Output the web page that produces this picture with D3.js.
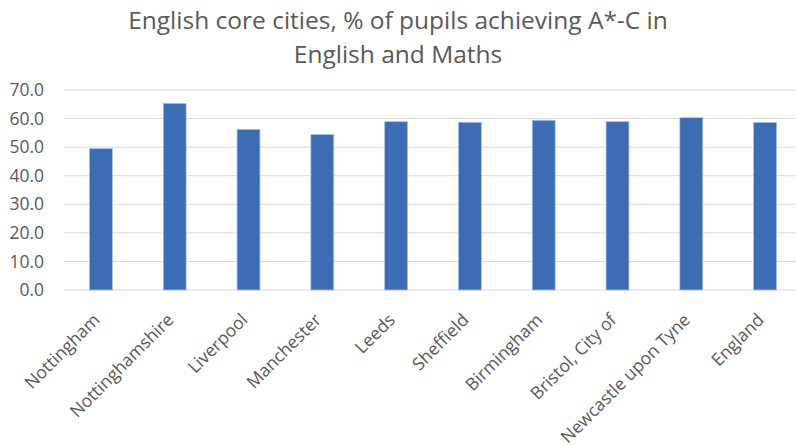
<!DOCTYPE html>
<html>
<head>
<meta charset="utf-8">
<script src="https://cdn.jsdelivr.net/npm/d3@7"></script>
<style>
  html, body { margin: 0; padding: 0; background: #fff; }
  svg { display: block; font-family: "Open Sans", "Noto Sans", sans-serif; }
</style>
</head>
<body>
<svg id="chart" width="796" height="445"></svg>
<script>
// Share of pupils achieving A*-C in English and Maths, by area
const categories = ["Nottingham", "Nottinghamshire", "Liverpool", "Manchester", "Leeds",
  "Sheffield", "Birmingham", "Bristol, City of", "Newcastle upon Tyne", "England"];
const values = [49.5, 65.3, 56.2, 54.4, 58.9, 58.7, 59.4, 58.9, 60.3, 58.6];
const yTicks = [0, 10, 20, 30, 40, 50, 60, 70];
const titleLines = ["English core cities, % of pupils achieving A*-C in", "English and Maths"];

const svg = d3.select("#chart");
const margin = { left: 64, right: -6, top: 90, bottom: 155 };
const W = 796, H = 445;
const FONT = "Open Sans, Noto Sans, sans-serif";

const x = d3.scaleBand()
  .domain(categories)
  .range([margin.left, W - margin.right])
  .paddingInner(0.69)
  .paddingOuter(0.345);

const y = d3.scaleLinear().domain([0, 70]).range([H - margin.bottom, margin.top]);

// Title
const title = svg.append("g").attr("fill", "#595959").attr("font-size", 24.5).attr("text-anchor", "middle");
titleLines.forEach((t, i) => {
  title.append("text").attr("x", 398).attr("y", 29 + i * 34).text(t);
});

// Gridlines
svg.append("g")
  .selectAll("line")
  .data(yTicks)
  .join("line")
  .attr("x1", margin.left).attr("x2", W)
  .attr("y1", d => y(d)).attr("y2", d => y(d))
  .attr("stroke", "#d9d9d9").attr("stroke-width", 1);

// Y axis labels
const yAxis = svg.append("g")
  .attr("transform", `translate(${margin.left - 20},0)`)
  .call(d3.axisLeft(y).tickValues(yTicks).tickFormat(d3.format(".1f")).tickSize(0).tickPadding(0));
yAxis.select(".domain").remove();
yAxis.selectAll("text").attr("fill", "#595959").attr("font-size", 17.5).attr("font-family", FONT);

// Bars
svg.append("g")
  .selectAll("rect")
  .data(values)
  .join("rect")
  .attr("x", (d, i) => x(categories[i]))
  .attr("y", d => y(d))
  .attr("width", x.bandwidth())
  .attr("height", d => y(0) - y(d))
  .attr("fill", "#3c6db4")
  .attr("stroke", "#a9bfe2")
  .attr("stroke-width", 0.75);

// X axis labels
const xAxis = svg.append("g")
  .attr("transform", `translate(0,${y(0)})`)
  .call(d3.axisBottom(x).tickSize(0).tickPadding(0));
xAxis.select(".domain").remove();
xAxis.selectAll("text")
  .attr("fill", "#595959")
  .attr("font-size", 17.5)
  .attr("font-family", FONT)
  .attr("text-anchor", "end")
  .attr("dy", null)
  .attr("transform", "translate(0,31) rotate(-45)");
</script>
</body>
</html>
